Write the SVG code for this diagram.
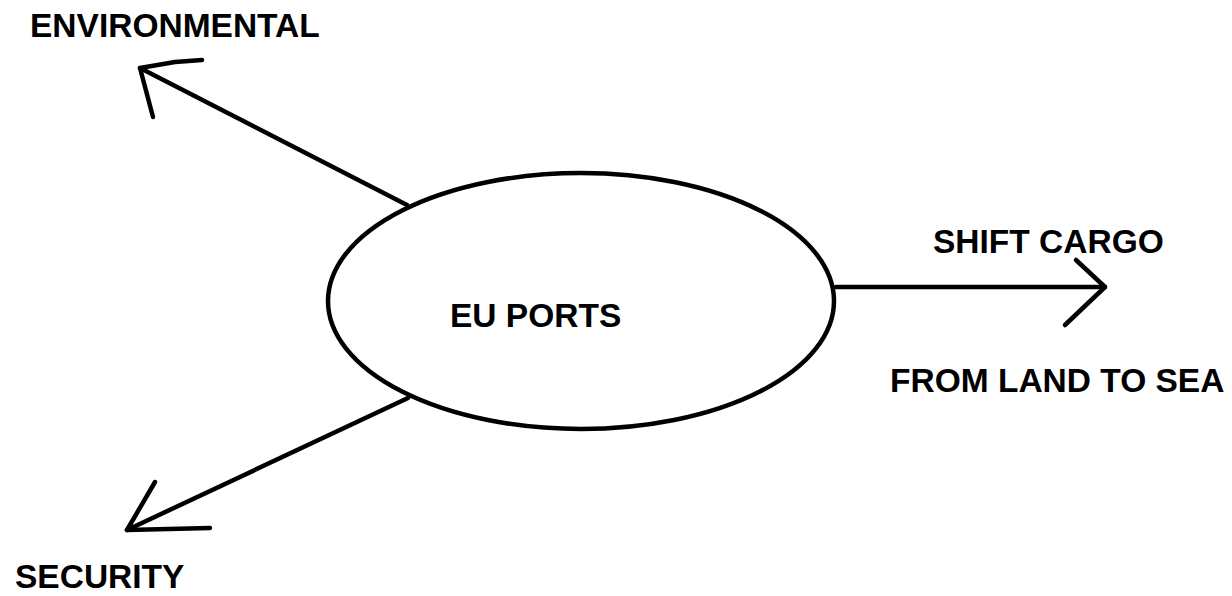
<svg xmlns="http://www.w3.org/2000/svg" width="1232" height="596" viewBox="0 0 1232 596">
<style>
.t{font-family:"Liberation Sans",Arial,sans-serif;font-weight:bold;font-size:33.5px;fill:#000}
.s{fill:none;stroke:#000;stroke-width:4.5;stroke-linecap:round;stroke-linejoin:round}
</style>
<rect width="1232" height="596" fill="#fff"/>
<g id="connectors">
<path class="s" d="M407 205 L140 68"/>
<path class="s" d="M202 60 L175 62 L140 68 L153 117"/>
<path class="s" d="M408 398 L127 530"/>
<path class="s" d="M155 482 L127 530 L210 528"/>
<path class="s" d="M836 287 L1105 287"/>
<path class="s" d="M1076 260 L1105 287 L1065 325"/>
</g>
<g id="eu-ports">
<ellipse class="s" cx="581" cy="301" rx="253" ry="128"/>
<text class="t" x="450" y="327">EU PORTS</text>
</g>
<g id="environmental">
<text class="t" x="30" y="37">ENVIRONMENTAL</text>
</g>
<g id="security">
<text class="t" x="15" y="588">SECURITY</text>
</g>
<g id="shift-cargo">
<text class="t" x="933" y="253">SHIFT CARGO</text>
<text class="t" x="890" y="392">FROM LAND TO SEA</text>
</g>
</svg>
